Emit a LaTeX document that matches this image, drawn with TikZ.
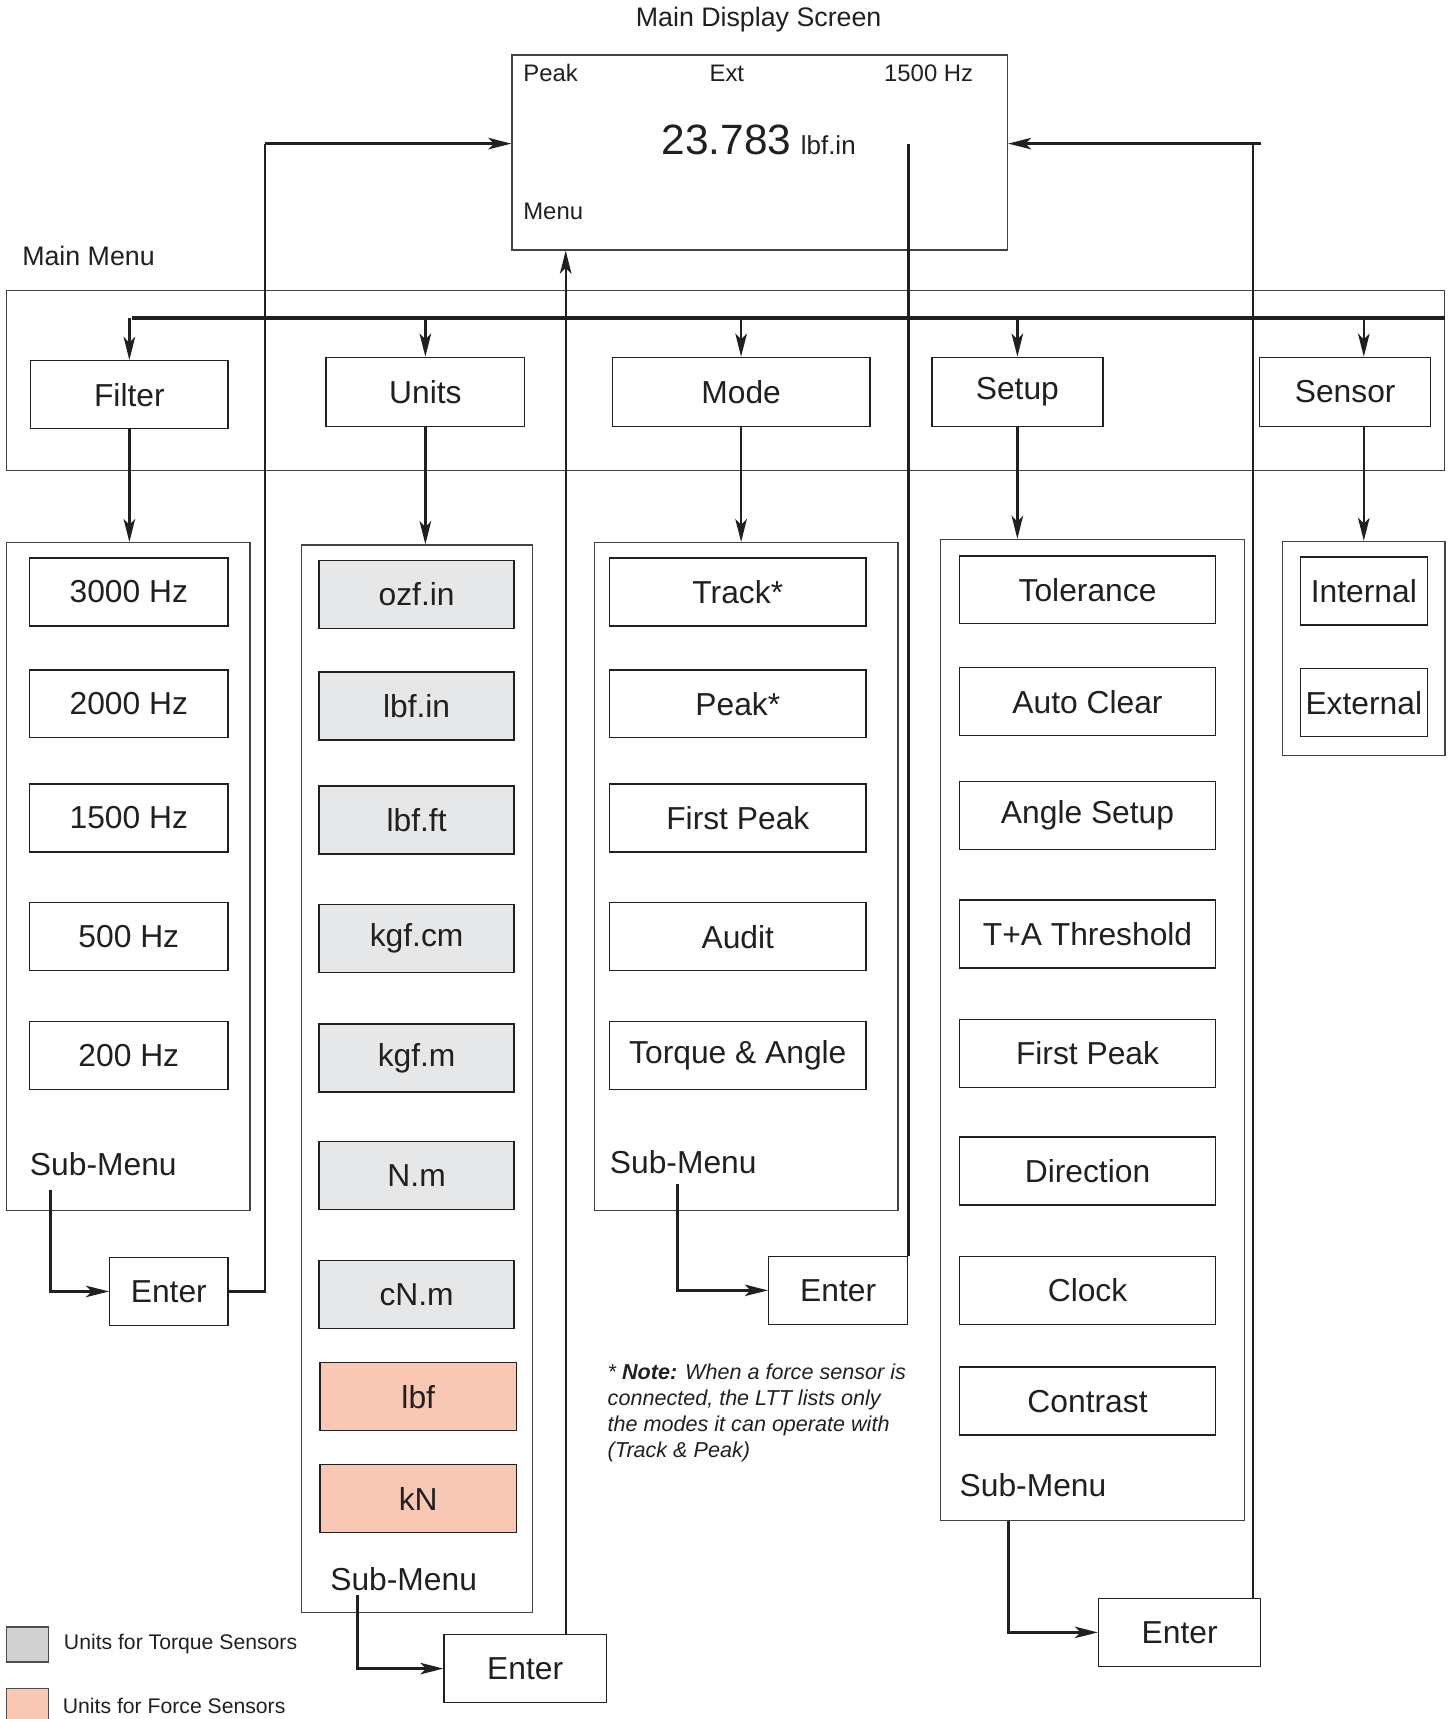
\documentclass[tikz,border=0pt]{standalone}
\usepackage{fontspec}
\setmainfont{Liberation Sans}
\usetikzlibrary{arrows.meta, positioning}
\definecolor{ink}{HTML}{231F20}
\definecolor{torque}{HTML}{E6E7E8}
\definecolor{torquekey}{HTML}{D2D1D1}
\definecolor{force}{HTML}{F9C8B4}
\newcommand{\itemfont}{\fontsize{16.5}{19}\selectfont}
\begin{document}
\begin{tikzpicture}[x=0.02cm, y=-0.02cm,
    every node/.style={text=ink},
    box/.style={draw=ink, line width=0.7pt, minimum height=1.24cm, inner sep=0pt, font=\itemfont},
    grp/.style={draw=ink!85, line width=0.7pt, inner sep=0pt},
    fitem/.style={box, minimum width=3.62cm},
    uitem/.style={box, fill=torque, minimum width=3.56cm},
    fitem2/.style={box, fill=force, minimum width=3.58cm},
    mitem/.style={box, minimum width=4.68cm},
    nitem/.style={box, minimum width=2.32cm},
    sub/.style={anchor=west, inner sep=0pt, font=\itemfont},
    a/.style={-{Stealth[length=12pt, width=6pt, inset=3pt]}, draw=ink, line width=1.2pt},
    ln/.style={draw=ink, line width=1.2pt},
    bus/.style={draw=ink, line width=1.8pt},
    title/.style={inner sep=0pt, font=\fontsize{13.9}{16}\selectfont},
    disp/.style={inner sep=0pt, font=\fontsize{12.4}{15}\selectfont},
    key/.style={anchor=west, inner sep=0pt, font=\fontsize{11}{13}\selectfont}
]
\useasboundingbox (0,0) rectangle (1324,1568);

% display screen
\node[title] (dtitle) at (692,18) {Main Display Screen};
\node[grp, minimum width=9.04cm, minimum height=3.56cm] (disp) at (693,139) {};
\node[disp, anchor=west] (dpeak) at (477,67) {Peak};
\node[disp] (dext) at (663,67) {Ext};
\node[disp, anchor=east] (dhz) at (888,67) {1500 Hz};
\node[inner sep=0pt, anchor=base] (dval) at (692,141)
  {{\fontsize{22}{26}\selectfont 23.783}\hspace{5pt}{\fontsize{13.5}{16}\selectfont lbf.in}};
\node[disp, anchor=west] (dmenu) at (477,193) {Menu};

% main menu
\node[title, anchor=west] (mtitle) at (20,233) {Main Menu};
\node[grp, minimum width=26.24cm, minimum height=3.28cm] (main) at (662,347) {};
\node[box, minimum width=3.6cm] (filter) at (118,360) {Filter};
\node[box, minimum width=3.62cm, minimum height=1.26cm] (units) at (388,357.5) {Units};
\node[box, minimum width=4.7cm, minimum height=1.26cm] (mode) at (676,357.5) {Mode};
\node[box, minimum width=3.12cm, minimum height=1.26cm] (setup) at (928,357.5) {Setup};
\node[box, minimum width=3.12cm, minimum height=1.26cm] (sensor) at (1227,357.5) {Sensor};

% sub-menus
\node[grp, minimum width=4.44cm, minimum height=12.18cm] (fsub) at (117,799.5) {};
\node[fitem] (f1) at (117.5,540) {3000 Hz};
\node[fitem] (f2) at (117.5,642) {2000 Hz};
\node[fitem] (f3) at (117.5,746) {1500 Hz};
\node[fitem] (f4) at (117.5,854.5) {500 Hz};
\node[fitem] (f5) at (117.5,963) {200 Hz};
\node[sub] (fsm) at (27,1062) {Sub-Menu};

\node[grp, minimum width=4.22cm, minimum height=19.48cm] (usub) at (380.5,984) {};
\node[uitem] (u1) at (380,542) {ozf.in};
\node[uitem] (u2) at (380,644) {lbf.in};
\node[uitem] (u3) at (380,748) {lbf.ft};
\node[uitem] (u4) at (380,856) {kgf.cm};
\node[uitem] (u5) at (380,965) {kgf.m};
\node[uitem] (u6) at (380,1072) {N.m};
\node[uitem] (u7) at (380,1181) {cN.m};
\node[fitem2] (u8) at (381.5,1274) {lbf};
\node[fitem2] (u9) at (381.5,1367) {kN};
\node[sub] (usm) at (301,1440) {Sub-Menu};

\node[grp, minimum width=5.54cm, minimum height=12.18cm] (msub) at (680.5,799.5) {};
\node[mitem] (m1) at (673,540) {Track*};
\node[mitem] (m2) at (673,642) {Peak*};
\node[mitem] (m3) at (673,746) {First Peak};
\node[mitem] (m4) at (673,854.5) {Audit};
\node[mitem] (m5) at (673,963) {Torque \& Angle};
\node[sub] (msm) at (556,1060) {Sub-Menu};

\node[grp, minimum width=5.54cm, minimum height=17.9cm] (ssub) at (996.5,939.5) {};
\node[mitem] (s1) at (992,538) {Tolerance};
\node[mitem] (s2) at (992,640) {Auto Clear};
\node[mitem] (s3) at (992,744) {Angle Setup};
\node[mitem] (s4) at (992,852) {T+A Threshold};
\node[mitem] (s5) at (992,961) {First Peak};
\node[mitem] (s6) at (992,1068) {Direction};
\node[mitem] (s7) at (992,1177) {Clock};
\node[mitem] (s8) at (992,1278) {Contrast};
\node[sub] (ssm) at (875,1355) {Sub-Menu};

\node[grp, minimum width=2.96cm, minimum height=3.9cm] (nsub) at (1244,591.5) {};
\node[nitem] (n1) at (1244,539) {Internal};
\node[nitem] (n2) at (1244,641) {External};

% enter keys
\node[box, minimum width=2.16cm] (fenter) at (154,1178) {Enter};
\node[box, minimum width=2.96cm] (uenter) at (479,1522) {Enter};
\node[box, minimum width=2.54cm] (menter) at (764.5,1177) {Enter};
\node[box, minimum width=2.96cm] (senter) at (1076,1489) {Enter};

% note and key
\node[anchor=north west, inner sep=0pt, align=left,
  font=\fontsize{11.2}{13.4}\selectfont\itshape] (note) at (554,1244)
  {* \textbf{Note:} When a force sensor is\\connected, the LTT lists only\\the modes it can operate with\\(Track \& Peak)};
\node[draw=ink!80, fill=torquekey, line width=0.6pt, minimum width=0.76cm, minimum height=0.64cm] (tkey) at (25,1500) {};
\node[key] (tkeytxt) at (58,1500) {Units for Torque Sensors};
\node[draw=ink!80, fill=force, line width=0.6pt, minimum width=0.76cm, minimum height=0.64cm] (fkey) at (25,1556) {};
\node[key] (fkeytxt) at (57,1556) {Units for Force Sensors};

% bus to main menu items
\coordinate (busl) at (120,290);
\draw[bus] (busl) -- (main.east |- busl);
\draw[a] (filter.north |- busl) -- (filter.north);
\draw[a] (units.north |- busl) -- (units.north);
\draw[a] (mode.north |- busl) -- (mode.north);
\draw[a] (setup.north |- busl) -- (setup.north);
\draw[a] (nsub.north |- busl) -- (nsub.north |- sensor.north);

% main menu items to sub-menus
\draw[a] (filter.south) -- (filter.south |- fsub.north);
\draw[a] (units.south) -- (units.south |- usub.north);
\draw[a] (mode.south) -- (mode.south |- msub.north);
\draw[a] (setup.south) -- (setup.south |- ssub.north);
\draw[a] (nsub.north |- sensor.south) -- (nsub.north);

% sub-menus to enter
\coordinate (fs) at (46,1085);
\coordinate (us) at (326,1455);
\coordinate (ms) at (618,1080);
\coordinate (ss) at (920,1387);
\draw[a] (fs) |- (fenter.west);
\draw[a] (us) |- (uenter.west);
\draw[a] (ms) |- (menter.west);
\draw[a] (ss) |- (senter.west);

% enter back to display
\coordinate (fup) at (242,131);
\coordinate (uup) at (516,0);
\coordinate (sup) at (1143,131);
\coordinate (send) at (1150,131);
\draw[ln] (fenter.east) -| (fup);
\draw[a] (fup) -- (disp.west |- fup);
\draw[a] (uenter.north -| uup) -- (disp.south -| uup);
\draw[ln] (menter.north east) -- (menter.north east |- fup);
\draw[ln] (senter.north -| sup) -- (sup);
\draw[a] (send) -- (disp.east |- send);
\end{tikzpicture}
\end{document}
